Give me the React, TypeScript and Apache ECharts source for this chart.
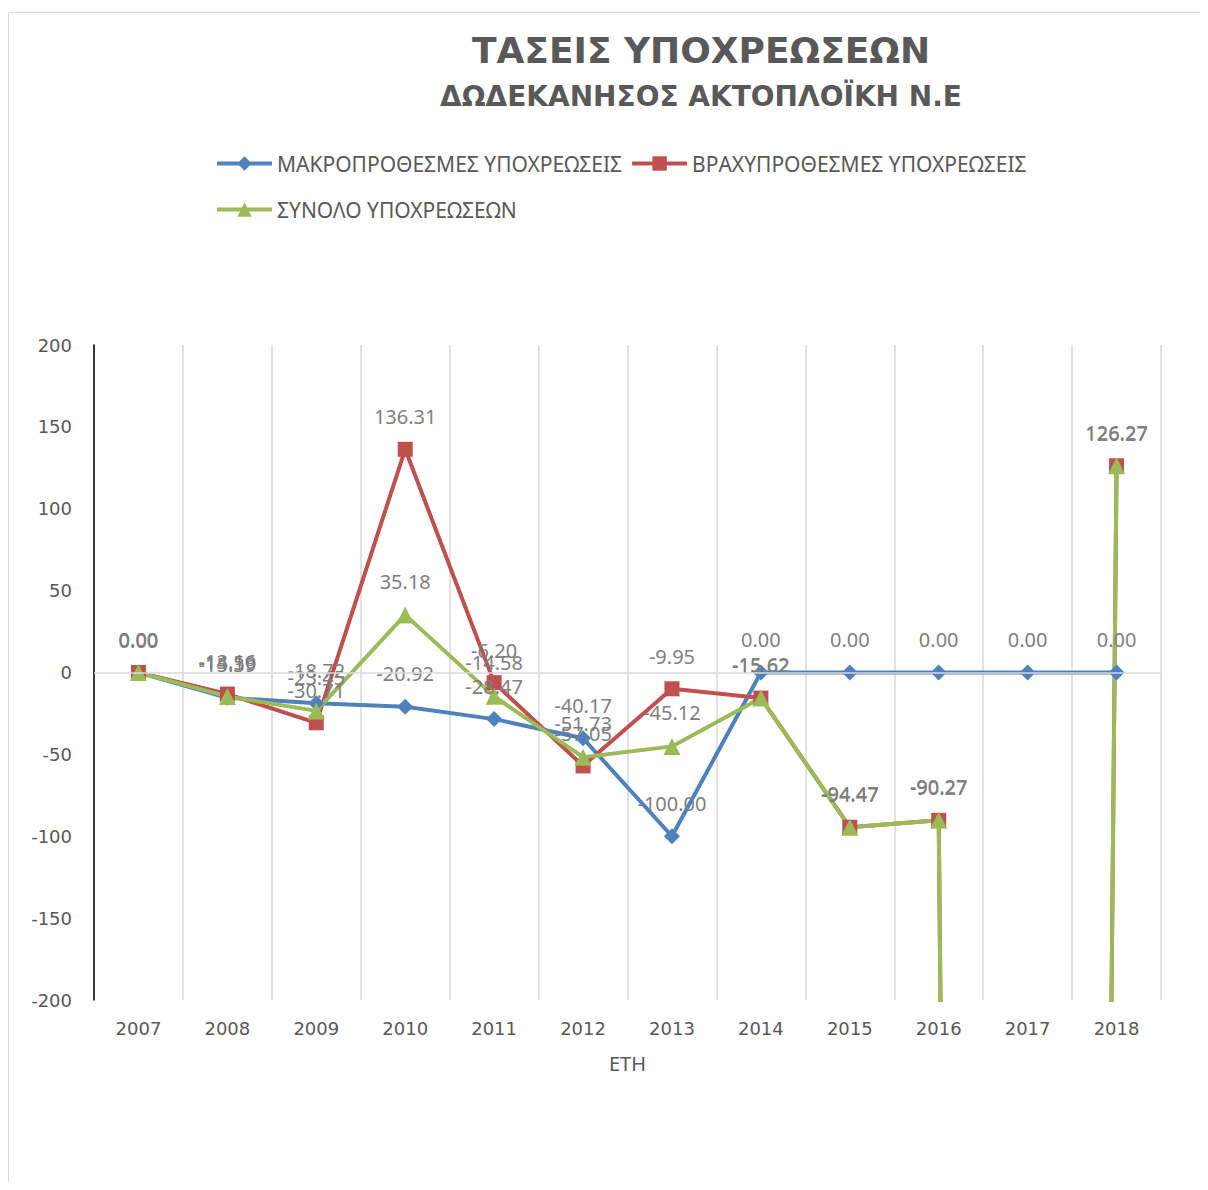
import React, { useEffect, useRef } from "react";
import * as echarts from "echarts";

const years = ["2007", "2008", "2009", "2010", "2011", "2012", "2013", "2014", "2015", "2016", "2017", "2018"];
const longTerm = [0, -15.39, -18.72, -20.92, -28.47, -40.17, -100.0, 0, 0, 0, 0, 0];
const shortTerm = [0, -13.16, -30.71, 136.31, -6.2, -57.05, -9.95, -15.62, -94.47, -90.27, -5600, 126.27];
const totalDebt = [0, -14.59, -23.45, 35.18, -14.58, -51.73, -45.12, -15.62, -94.47, -90.27, -5600, 126.27];

const yMin = -200;
const yMax = 200;
const yStep = 50;

const NAME_LONG = "ΜΑΚΡΟΠΡΟΘΕΣΜΕΣ ΥΠΟΧΡΕΩΣΕΙΣ";
const NAME_SHORT = "ΒΡΑΧΥΠΡΟΘΕΣΜΕΣ ΥΠΟΧΡΕΩΣΕΙΣ";
const NAME_TOTAL = "ΣΥΝΟΛΟ ΥΠΟΧΡΕΩΣΕΩΝ";
const TITLE = "ΤΑΣΕΙΣ ΥΠΟΧΡΕΩΣΕΩΝ";
const SUBTITLE = "ΔΩΔΕΚΑΝΗΣΟΣ ΑΚΤΟΠΛΟΪΚΗ Ν.Ε";
const X_NAME = "ΕΤΗ";

const gray = "#595959";
const labelGray = "#7f7f7f";
const gridGray = "#d9d9d9";
const narrow = "'Liberation Sans Narrow', 'Noto Sans', sans-serif";

function makeSeries(name: string, data: number[], color: string, symbol: string, size: number) {
  return {
    name,
    type: "line",
    data,
    z: 3,
    clip: true,
    symbol,
    symbolSize: size,
    lineStyle: { color, width: 4 },
    itemStyle: { color },
    label: {
      show: true,
      position: "top",
      distance: 15,
      color: labelGray,
      fontSize: 20,
      fontFamily: "'Noto Sans', sans-serif",
      formatter: (p: any) => (p.value < yMin || p.value > yMax ? "" : Number(p.value).toFixed(2)),
    },
  };
}

export default function App() {
  const ref = useRef<HTMLDivElement>(null);
  useEffect(() => {
    if (!ref.current) return;
    const chart = echarts.init(ref.current, undefined, { renderer: "svg" });
    const legendText = { fontSize: 21, color: gray, fontFamily: narrow };
    const legendCommon = {
      left: 207,
      padding: 0,
      itemWidth: 55,
      itemHeight: 18,
      itemGap: 8,
      lineStyle: { width: 4 },
      textStyle: legendText,
    };
    chart.setOption({
      animation: false,
      backgroundColor: "#ffffff",
      graphic: [
        {
          type: "rect",
          silent: true,
          shape: { x: 0.5, y: 4.5, width: 1500, height: 1500 },
          style: { fill: "none", stroke: gridGray, lineWidth: 1 },
        },
        {
          type: "text",
          x: 693,
          y: 42,
          style: {
            text: TITLE,
            align: "center",
            verticalAlign: "middle",
            fontSize: 36,
            fontWeight: "bold",
            fontFamily: "'DejaVu Sans', sans-serif",
            fill: gray,
          },
        },
        {
          type: "text",
          x: 693,
          y: 88,
          style: {
            text: SUBTITLE,
            align: "center",
            verticalAlign: "middle",
            fontSize: 28,
            fontWeight: "bold",
            fontFamily: "'DejaVu Sans', sans-serif",
            fill: gray,
          },
        },
      ],
      legend: [
        { ...legendCommon, data: [NAME_LONG, NAME_SHORT], top: 145 },
        { ...legendCommon, data: [NAME_TOTAL], top: 191 },
      ],
      grid: { left: 86, right: 39, top: 337, bottom: 182, containLabel: false },
      xAxis: {
        type: "category",
        data: years,
        boundaryGap: true,
        name: X_NAME,
        nameLocation: "middle",
        nameGap: 53,
        nameTextStyle: { fontSize: 20, color: gray, fontFamily: narrow },
        axisLine: { show: false, onZero: false },
        axisTick: { show: false },
        axisLabel: {
          margin: 19,
          fontSize: 18,
          color: gray,
          fontFamily: "'DejaVu Sans', sans-serif",
        },
        splitLine: { show: true, lineStyle: { color: gridGray, width: 1.5 } },
      },
      yAxis: {
        type: "value",
        min: yMin,
        max: yMax,
        interval: yStep,
        axisLine: { show: true, lineStyle: { color: "#000000", width: 1.5 } },
        axisTick: { show: false },
        axisLabel: {
          margin: 22,
          fontSize: 18,
          color: gray,
          fontFamily: "'DejaVu Sans', sans-serif",
        },
        splitLine: { show: false },
      },
      series: [
        {
          name: "zero",
          type: "line",
          data: [],
          z: 1,
          silent: true,
          markLine: {
            silent: true,
            symbol: "none",
            label: { show: false },
            lineStyle: { color: gridGray, width: 1.5, type: "solid" },
            data: [{ yAxis: 0 }],
          },
        },
        makeSeries(NAME_LONG, longTerm, "#4f81bd", "diamond", 16),
        makeSeries(NAME_SHORT, shortTerm, "#c0504d", "rect", 15),
        makeSeries(NAME_TOTAL, totalDebt, "#9bbb59", "triangle", 17),
      ],
    });
    return () => chart.dispose();
  }, []);
  return <div ref={ref} style={{ width: 1192, height: 1174 }} />;
}
